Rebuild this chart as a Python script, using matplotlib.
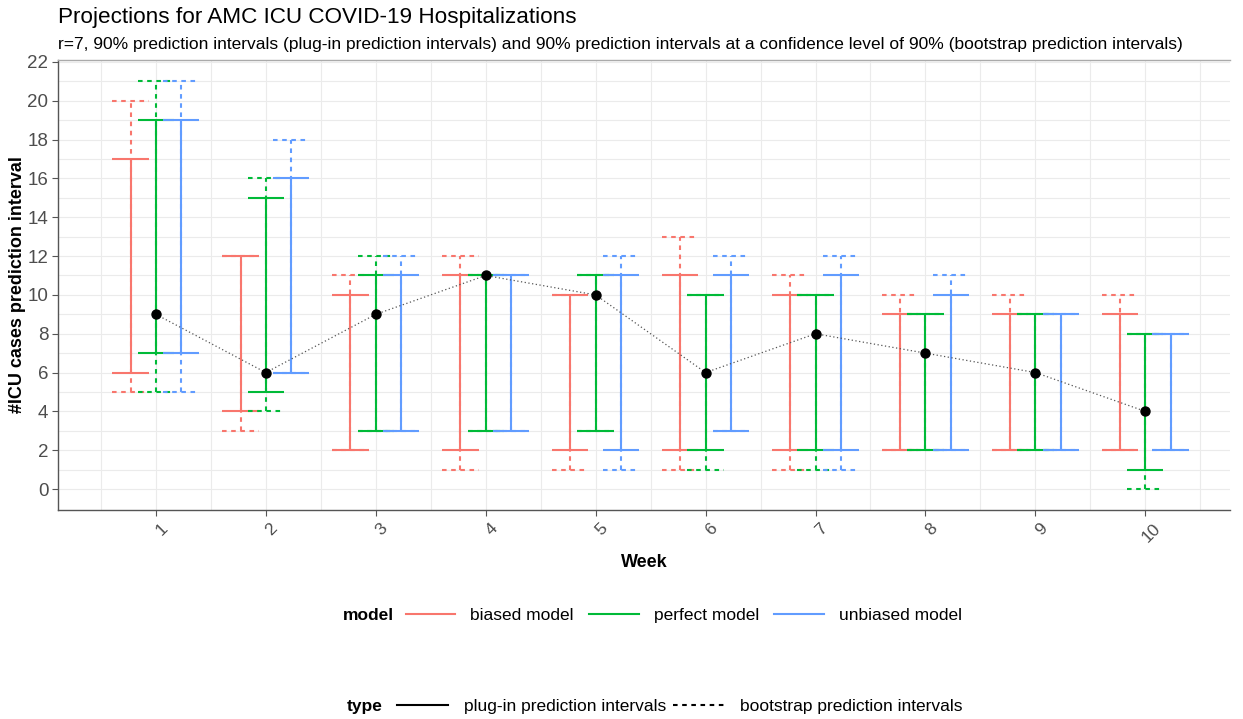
import numpy as np
import matplotlib.pyplot as plt
import matplotlib.transforms as mtransforms
from matplotlib.lines import Line2D

plt.rcParams['font.family'] = ['Liberation Sans', 'DejaVu Sans']

weeks = np.arange(1, 11)
observed = [9, 6, 9, 11, 10, 6, 8, 7, 6, 4]

models = ['biased model', 'perfect model', 'unbiased model']
colors = ['#F8766D', '#00BA38', '#619CFF']

# plug-in prediction intervals
plugin_lo = {
    'biased model':   [6, 4, 2, 2, 2, 2, 2, 2, 2, 2],
    'perfect model':  [7, 5, 3, 3, 3, 2, 2, 2, 2, 1],
    'unbiased model': [7, 6, 3, 3, 2, 3, 2, 2, 2, 2],
}
plugin_hi = {
    'biased model':   [17, 12, 10, 11, 10, 11, 10, 9, 9, 9],
    'perfect model':  [19, 15, 11, 11, 11, 10, 10, 9, 9, 8],
    'unbiased model': [19, 16, 11, 11, 11, 11, 11, 10, 9, 8],
}
# bootstrap prediction intervals
boot_lo = {
    'biased model':   [5, 3, 2, 1, 1, 1, 1, 2, 2, 2],
    'perfect model':  [5, 4, 3, 3, 3, 1, 1, 2, 2, 0],
    'unbiased model': [5, 6, 3, 3, 1, 3, 1, 2, 2, 2],
}
boot_hi = {
    'biased model':   [20, 12, 11, 12, 10, 13, 11, 10, 10, 10],
    'perfect model':  [21, 16, 12, 11, 11, 10, 10, 9, 9, 8],
    'unbiased model': [21, 18, 12, 11, 12, 12, 12, 11, 9, 8],
}

offsets = [-0.23, 0.0, 0.23]
cap = 0.165
lw = 1.5
dash = (0, (2.2, 2.2))


def errbar(ax, x, lo, hi, color, ls):
    ax.plot([x, x], [lo, hi], color=color, lw=lw, ls=ls, solid_capstyle='butt')
    ax.plot([x - cap, x + cap], [lo, lo], color=color, lw=lw, ls=ls, solid_capstyle='butt')
    ax.plot([x - cap, x + cap], [hi, hi], color=color, lw=lw, ls=ls, solid_capstyle='butt')


fig = plt.figure(figsize=(12.43, 7.19), dpi=100)
ax = fig.add_axes([58 / 1243, 1 - 510 / 719, (1230 - 58) / 1243, (510 - 60) / 719])

for m, c, off in zip(models, colors, offsets):
    for i, w in enumerate(weeks):
        errbar(ax, w + off, boot_lo[m][i], boot_hi[m][i], c, dash)
    for i, w in enumerate(weeks):
        errbar(ax, w + off, plugin_lo[m][i], plugin_hi[m][i], c, '-')

ax.plot(weeks, observed, color='#555555', lw=0.9, ls=(0, (1, 2)), zorder=4)
ax.scatter(weeks, observed, color='black', s=42, zorder=5)

ax.set_xlim(0.11, 10.77)
ax.set_ylim(-1.08, 22.1)
ax.set_xticks(weeks)
ax.set_xticks(np.arange(0.5, 11, 1), minor=True)
ax.set_yticks(np.arange(0, 23, 2))
ax.set_yticks(np.arange(1, 23, 2), minor=True)
ax.grid(True, which='both', color='#EBEBEB', lw=0.8)
ax.set_axisbelow(True)
ax.tick_params(which='minor', length=0)
ax.tick_params(axis='both', which='major', color='#555555', length=4, labelcolor='#4D4D4D')
ax.tick_params(axis='y', labelsize=13.5, pad=3)
ax.tick_params(axis='x', labelsize=12.5, pad=4)
shift = mtransforms.ScaledTranslation(6 / 100, 0, fig.dpi_scale_trans)
for lab in ax.get_xticklabels():
    lab.set_rotation(45)
    lab.set_ha('center')
    lab.set_va('top')
    lab.set_transform(lab.get_transform() + shift)

for s in ['left', 'bottom']:
    ax.spines[s].set_color('#555555')
    ax.spines[s].set_linewidth(1.0)
ax.spines['top'].set_color('#AAAAAA')
ax.spines['top'].set_linewidth(1.0)
ax.spines['right'].set_visible(False)

ax.set_xlabel('Week', fontsize=13, fontweight='bold', labelpad=6)
ax.set_ylabel('#ICU cases prediction interval', fontsize=13, fontweight='bold', labelpad=1)

fig.text(58 / 1243, 1 - 18 / 719, 'Projections for AMC ICU COVID-19 Hospitalizations',
         fontsize=16.2, va='center', ha='left')
fig.text(58 / 1243, 1 - 44 / 719,
         'r=7, 90% prediction intervals (plug-in prediction intervals) and 90% prediction intervals '
         'at a confidence level of 90% (bootstrap prediction intervals)',
         fontsize=12.5, va='center', ha='left')

# legends
fig.text(343 / 1243, 1 - 615 / 719, 'model', fontsize=12.5, fontweight='bold', va='center', ha='left')
h_model = [Line2D([], [], color=c, lw=lw) for c in colors]
fig.legend(h_model, models, loc='center left', bbox_to_anchor=(406 / 1243, 1 - 615 / 719),
           ncol=3, frameon=False, fontsize=12.5, handlelength=2.85, handletextpad=0.85,
           columnspacing=0.9, borderaxespad=0, borderpad=0)

fig.text(347 / 1243, 1 - 706 / 719, 'type', fontsize=12.5, fontweight='bold', va='center', ha='left')
h_type = [Line2D([], [], color='black', lw=lw),
          Line2D([], [], color='black', lw=lw, ls=dash)]
fig.legend(h_type, ['plug-in prediction intervals', 'bootstrap prediction intervals'],
           loc='center left', bbox_to_anchor=(397 / 1243, 1 - 706 / 719),
           ncol=2, frameon=False, fontsize=12.5, handlelength=2.95, handletextpad=0.9,
           columnspacing=0.4, borderaxespad=0, borderpad=0)

fig.savefig('out.png', dpi=100)
